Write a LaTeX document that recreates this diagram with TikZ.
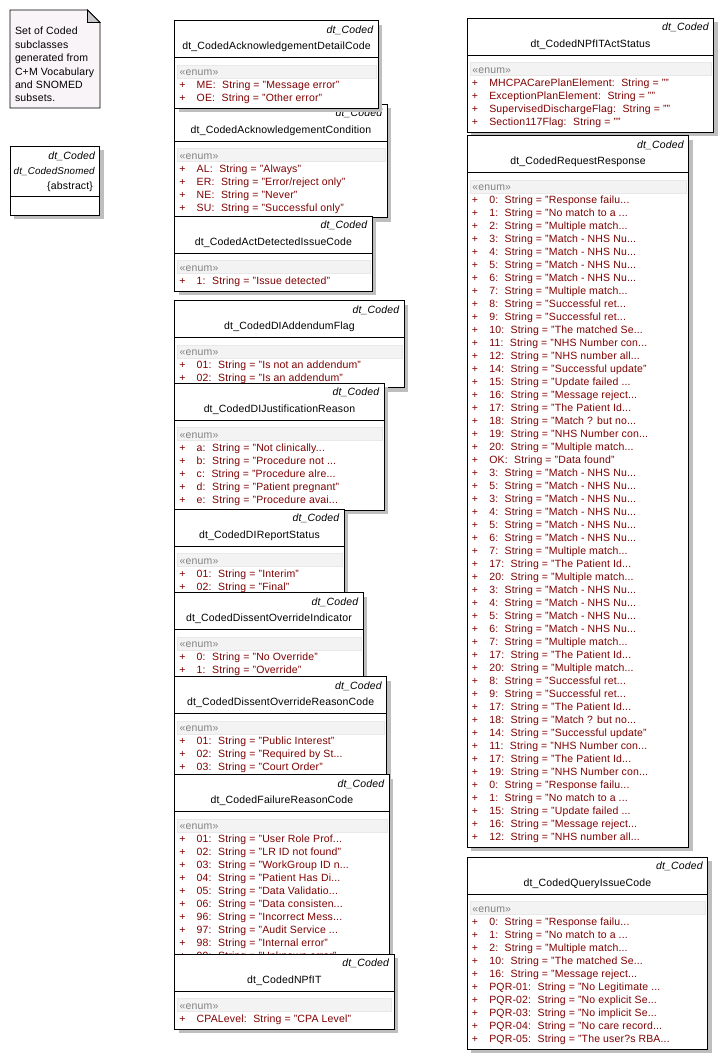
\documentclass[tikz,border=0pt]{standalone}
\usepackage{fontspec}
\setmainfont{Liberation Sans}[LetterSpace=1.5]
\definecolor{darkred}{RGB}{128,0,0}
\definecolor{shadowgray}{RGB}{190,190,190}
\definecolor{enumgray}{RGB}{130,130,130}
\definecolor{bandfill}{RGB}{243,243,243}
\definecolor{bandline}{RGB}{232,232,232}
\definecolor{notefill}{RGB}{248,244,248}
\definecolor{foldfill}{RGB}{200,200,200}
\newcommand\rr[2]{#1:\hspace{6.5pt}String = "#2}
\tikzset{
  txt/.style={inner sep=0pt, outer sep=0pt, font=\fontsize{10.5}{12}\selectfont},
  stereo/.style={inner sep=0pt, outer sep=0pt, font=\fontsize{10.5}{12}\selectfont\itshape},
  attr/.style={txt, text=darkred},
  enumtag/.style={txt, text=enumgray},
  classbox/.style={draw=black, fill=white, line width=0.8pt, inner sep=0pt, outer sep=0pt, anchor=north west},
  shadowbox/.style={fill=shadowgray},
  rule/.style={line width=0.8pt},
}
\newcommand\umlclass[7]{%
  \fill[shadowbox] ({#2+4},{#3+4}) rectangle ({#4+4},{#5+4});
  \node[classbox, minimum width={(#4-#2)*1pt}, minimum height={(#5-#3)*1pt}] (#1) at (#2,#3) {};
  \node[stereo, anchor=base east] (#1-st) at ({#4-5},{#3+12.6}) {dt\_Coded};
  \node[txt, anchor=base] (#1-nm) at ({(#2+#4)/2},{#3+29}) {#6};
  \draw[rule] ({#2},{#3+37}) -- ({#4},{#3+37});
  \filldraw[fill=bandfill, draw=bandline] ({#2+2.6},{#3+44}) rectangle ({#4-2.6},{#3+57});
  \node[enumtag, anchor=base west] (#1-en) at ({#2+5},{#3+55.2}) {«enum»};
  \foreach \r [count=\i from 0] in {#7} {
    \node[attr, anchor=base west] (#1-p\i) at ({#2+4.6},{#3+68.1+13*\i}) {+};
    \node[attr, anchor=base west] (#1-a\i) at ({#2+22},{#3+68.1+13*\i}) {\r};
  }
}
\begin{document}
\begin{tikzpicture}[x=1pt, y=-1pt]
\useasboundingbox (0,0) rectangle (724,1060);
\fill[white] (0,0) rectangle (724,1060);

% note
\filldraw[fill=notefill, draw=black, line width=0.8pt] (10,10) -- (87.5,10) -- (100,22.5) -- (100,108) -- (10,108) -- cycle;
\filldraw[fill=foldfill, draw=black, line width=0.8pt] (87.5,10) -- (87.5,22.5) -- (100,22.5) -- cycle;
\node[txt, anchor=north west, align=left, font=\fontsize{10.5}{13.4}\selectfont] (note) at (15,27.2)
  {Set of Coded\\subclasses\\generated from\\C+M Vocabulary\\and SNOMED\\subsets.};

% abstract class
\fill[shadowbox] (14,150) rectangle (103.5,219);
\node[classbox, minimum width=89.5pt, minimum height=69pt] (abs) at (10,146) {};
\node[stereo, anchor=base east] (abs-st) at (95,159.5) {dt\_Coded};
\node[stereo, anchor=base, font=\fontsize{9.8}{12}\selectfont\itshape] (abs-nm) at (54.2,174.5) {dt\_CodedSnomed};
\node[txt, anchor=base east] (abs-ab) at (93,189) {\{abstract\}};
\draw[rule] (10,196) -- (99.5,196);

% left column
\umlclass{ackcond}{174.7}{104.3}{387.3}{217.7}{dt\_CodedAcknowledgementCondition}
  {\rr{AL}{Always"},\rr{ER}{Error/reject only"},\rr{NE}{Never"},\rr{SU}{Successful only"}}
\umlclass{ackdetail}{174.7}{20.7}{378.3}{108.3}{dt\_CodedAcknowledgementDetailCode}
  {\rr{ME}{Message error"},\rr{OE}{Other error"}}
\umlclass{actdet}{174.7}{216.3}{372.3}{291}{dt\_CodedActDetectedIssueCode}
  {\rr{1}{Issue detected"}}
\umlclass{diadd}{174.7}{300.7}{404.3}{387.7}{dt\_CodedDIAddendumFlag}
  {\rr{01}{Is not an addendum"},\rr{02}{Is an addendum"}}
\umlclass{dijust}{174.7}{383.3}{384.3}{510}{dt\_CodedDIJustificationReason}
  {\rr{a}{Not clinically...},\rr{b}{Procedure not ...},\rr{c}{Procedure alre...},\rr{d}{Patient pregnant"},\rr{e}{Procedure avai...}}
\umlclass{direp}{174.7}{509}{344.3}{596}{dt\_CodedDIReportStatus}
  {\rr{01}{Interim"},\rr{02}{Final"}}
\umlclass{disind}{174.7}{592.7}{363.3}{680}{dt\_CodedDissentOverrideIndicator}
  {\rr{0}{No Override"},\rr{1}{Override"}}
\umlclass{disreason}{174.7}{676.7}{386.7}{777.5}{dt\_CodedDissentOverrideReasonCode}
  {\rr{01}{Public Interest"},\rr{02}{Required by St...},\rr{03}{Court Order"}}
\umlclass{failure}{174.7}{774.7}{389.3}{966}{dt\_CodedFailureReasonCode}
  {\rr{01}{User Role Prof...},\rr{02}{LR ID not found"},\rr{03}{WorkGroup ID n...},\rr{04}{Patient Has Di...},\rr{05}{Data Validatio...},\rr{06}{Data consisten...},\rr{96}{Incorrect Mess...},\rr{97}{Audit Service ...},\rr{98}{Internal error"},\rr{99}{Unknown error"}}
\umlclass{npfit}{174.7}{954.3}{394}{1029.3}{dt\_CodedNPfIT}
  {\rr{CPALevel}{CPA Level"}}

% right column
\umlclass{actstatus}{467.3}{18.3}{713.7}{132.3}{dt\_CodedNPfITActStatus}
  {\rr{MHCPACarePlanElement}{"},\rr{ExceptionPlanElement}{"},\rr{SupervisedDischargeFlag}{"},\rr{Section117Flag}{"}}
\umlclass{reqresp}{467.3}{135.7}{688.7}{847.3}{dt\_CodedRequestResponse}
  {\rr{0}{Response failu...},\rr{1}{No match to a ...},\rr{2}{Multiple match...},\rr{3}{Match - NHS Nu...},\rr{4}{Match - NHS Nu...},\rr{5}{Match - NHS Nu...},\rr{6}{Match - NHS Nu...},\rr{7}{Multiple match...},\rr{8}{Successful ret...},\rr{9}{Successful ret...},\rr{10}{The matched Se...},\rr{11}{NHS Number con...},\rr{12}{NHS number all...},\rr{14}{Successful update"},\rr{15}{Update failed ...},\rr{16}{Message reject...},\rr{17}{The Patient Id...},\rr{18}{Match ? but no...},\rr{19}{NHS Number con...},\rr{20}{Multiple match...},\rr{OK}{Data found"},\rr{3}{Match - NHS Nu...},\rr{5}{Match - NHS Nu...},\rr{3}{Match - NHS Nu...},\rr{4}{Match - NHS Nu...},\rr{5}{Match - NHS Nu...},\rr{6}{Match - NHS Nu...},\rr{7}{Multiple match...},\rr{17}{The Patient Id...},\rr{20}{Multiple match...},\rr{3}{Match - NHS Nu...},\rr{4}{Match - NHS Nu...},\rr{5}{Match - NHS Nu...},\rr{6}{Match - NHS Nu...},\rr{7}{Multiple match...},\rr{17}{The Patient Id...},\rr{20}{Multiple match...},\rr{8}{Successful ret...},\rr{9}{Successful ret...},\rr{17}{The Patient Id...},\rr{18}{Match ? but no...},\rr{14}{Successful update"},\rr{11}{NHS Number con...},\rr{17}{The Patient Id...},\rr{19}{NHS Number con...},\rr{0}{Response failu...},\rr{1}{No match to a ...},\rr{15}{Update failed ...},\rr{16}{Message reject...},\rr{12}{NHS number all...}}
\umlclass{query}{467.3}{857.3}{707.7}{1049.3}{dt\_CodedQueryIssueCode}
  {\rr{0}{Response failu...},\rr{1}{No match to a ...},\rr{2}{Multiple match...},\rr{10}{The matched Se...},\rr{16}{Message reject...},\rr{PQR-01}{No Legitimate ...},\rr{PQR-02}{No explicit Se...},\rr{PQR-03}{No implicit Se...},\rr{PQR-04}{No care record...},\rr{PQR-05}{The user?s RBA...}}
\end{tikzpicture}
\end{document}
